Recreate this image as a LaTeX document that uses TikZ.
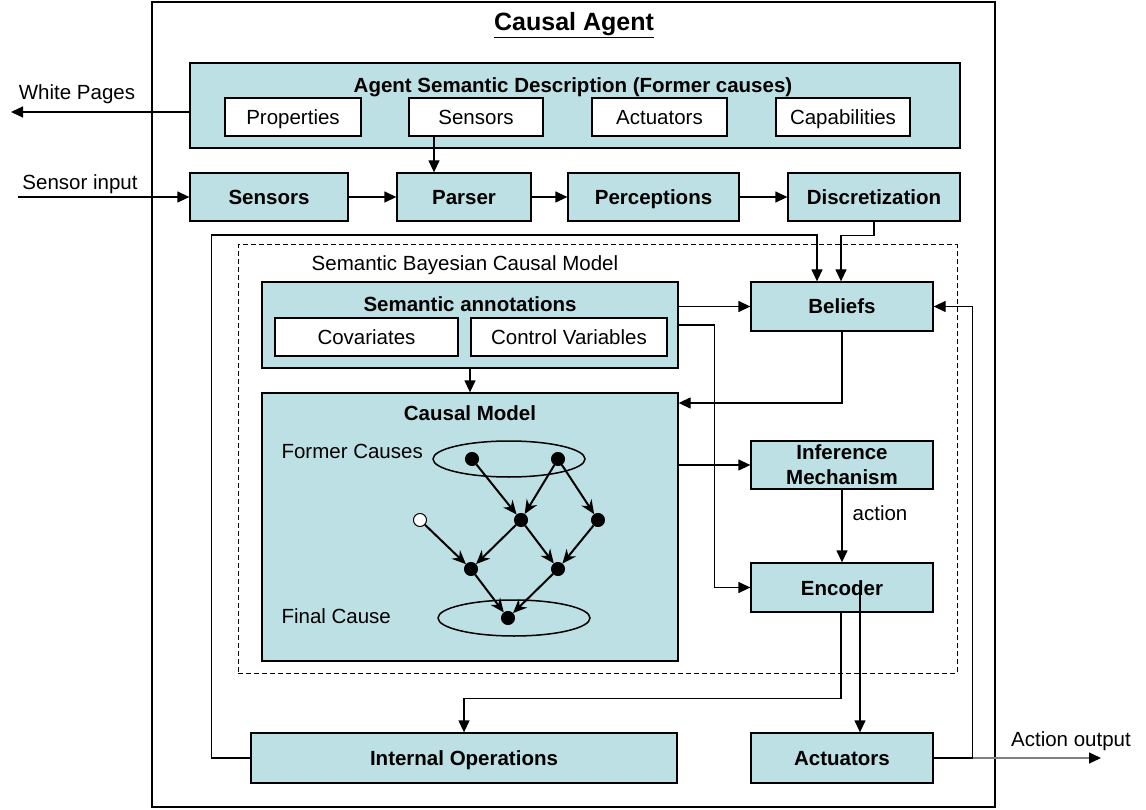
\documentclass[tikz,border=0pt]{standalone}
\usepackage{fontspec}
\setmainfont{Liberation Sans}
\usetikzlibrary{arrows.meta}
\definecolor{tealfill}{RGB}{188,224,227}
\begin{document}
\begin{tikzpicture}[x=1pt,y=-1pt,
  font=\fontsize{20.5}{25}\selectfont,
  rg/.style={font=\fontsize{20.5}{25}\selectfont, text height=15pt, text depth=0pt},
  bf/.style={font=\fontsize{20.5}{25}\selectfont\bfseries, text height=15pt, text depth=0pt},
  tbox/.style={draw, fill=tealfill, line width=1.3pt, inner sep=0pt, bf},
  wbox/.style={draw, fill=white, line width=1.3pt, inner sep=0pt, rg},
  conn/.style={line width=1.3pt, -{Triangle[length=12pt,width=11pt]}},
  gnode/.style={circle, draw, fill=black, line width=1pt, minimum size=13pt, inner sep=0pt},
  gedge/.style={line width=2pt, -{Stealth[length=14pt,width=12pt]}},
]
\useasboundingbox (0,0) rectangle (1146,810);

% outer agent box and title
\node[draw, line width=1.3pt, minimum width=843pt, minimum height=805pt, inner sep=0pt] (agent) at (573.5,404.5) {};
\node[font=\fontsize{25}{30}\selectfont\bfseries] (title) at (574,25) {\underline{Causal Agent}};

% agent semantic description
\node[tbox, minimum width=770pt, minimum height=85pt] (asd) at (575,105.5) {};
\node[bf] (asdt) at (573,85) {Agent Semantic Description (Former causes)};
\node[wbox, minimum width=136pt, minimum height=38pt] (prop) at (293,117) {Properties};
\node[wbox, minimum width=134pt, minimum height=38pt] (wsens) at (476,117) {Sensors};
\node[wbox, minimum width=135pt, minimum height=38pt] (wact) at (659.5,117) {Actuators};
\node[wbox, minimum width=134pt, minimum height=38pt] (capa) at (843,117) {Capabilities};

% sensing row
\node[tbox, minimum width=158pt, minimum height=48pt] (sens) at (269,197) {Sensors};
\node[tbox, minimum width=134pt, minimum height=48pt] (parser) at (464,197) {Parser};
\node[tbox, minimum width=171pt, minimum height=48pt] (perc) at (653.5,197) {Perceptions};
\node[tbox, minimum width=172pt, minimum height=48pt] (disc) at (874,197) {Discretization};

% semantic bayesian causal model
\node[draw, line width=1pt, dash pattern=on 5pt off 3pt, minimum width=719pt, minimum height=428pt, inner sep=0pt] (sbcm) at (597.5,459) {};
\node[rg] (sbcml) at (465,263) {Semantic Bayesian Causal Model};

\node[tbox, minimum width=416pt, minimum height=86pt] (sa) at (470,325) {};
\node[bf] (sat) at (470,304) {Semantic annotations};
\node[wbox, minimum width=183pt, minimum height=38pt] (cov) at (366.5,337) {Covariates};
\node[wbox, minimum width=196pt, minimum height=38pt] (ctrl) at (569,337) {Control Variables};

\node[tbox, minimum width=416pt, minimum height=268pt] (cm) at (470,527) {};
\node[bf] (cmt) at (470,413) {Causal Model};

\node[tbox, minimum width=182pt, minimum height=49pt] (bel) at (842,306.5) {Beliefs};
\node[tbox, minimum width=182pt, minimum height=48pt, align=center, text height=, text depth=] (inf) at (842,465) {Inference\\Mechanism};
\node[tbox, minimum width=182pt, minimum height=49pt] (enc) at (842,587.5) {Encoder};

% bottom row
\node[tbox, minimum width=426pt, minimum height=50pt] (intops) at (464,758) {Internal Operations};
\node[tbox, minimum width=182pt, minimum height=50pt] (act) at (842,758) {Actuators};

% outside labels
\node[rg] (wpl) at (77,92) {White Pages};
\node[rg] (sil) at (80,182) {Sensor input};
\node[rg] (actl) at (880,513) {action};
\node[rg] (aol) at (1071,739) {Action output};

% causal graph
\draw[line width=1.5pt] (509,459) ellipse [x radius=76pt, y radius=18pt];
\draw[line width=1.5pt] (514,618) ellipse [x radius=76pt, y radius=18pt];
\node[rg, anchor=west] (fcl) at (278,451) {Former Causes};
\node[rg, anchor=west] (finl) at (278,616) {Final Cause};
\node[gnode] (a) at (472,459) {};
\node[gnode] (b) at (558,459) {};
\node[gnode] (c) at (521,520) {};
\node[gnode] (d) at (598,520) {};
\node[gnode, fill=white] (o) at (420,520) {};
\node[gnode] (e) at (471,569) {};
\node[gnode] (f) at (558,569) {};
\node[gnode] (g) at (508,618) {};
\draw[gedge] (a) -- (c);
\draw[gedge] (b) -- (c);
\draw[gedge] (b) -- (d);
\draw[gedge] (o) -- (e);
\draw[gedge] (c) -- (e);
\draw[gedge] (c) -- (f);
\draw[gedge] (d) -- (f);
\draw[gedge] (e) -- (g);
\draw[gedge] (f) -- (g);

% connectors
\coordinate (wp) at (11,112);
\draw[conn] (asd.west |- wp) -- (wp);
\coordinate (si) at (18,197);
\draw[conn] (si) -- (sens.west);
\draw[conn] (sens) -- (parser);
\draw[conn] (parser) -- (perc);
\draw[conn] (perc) -- (disc);
\draw[conn] ([xshift=-42pt]wsens.south) -- ([xshift=-30pt]parser.north);
\draw[conn] (disc.south) -- ++(0,14) -| ([xshift=-1pt]bel.north);
\coordinate (lp) at (211.5,235);
\draw[conn] (intops.west) -| (lp) -| ([xshift=-25pt]bel.north);
\draw[conn] (sa.east |- bel.west) -- (bel.west);
\draw[conn] (sa.east) -- ++(36,0) |- (enc.west);
\draw[conn] (bel.south) |- ([yshift=124pt]cm.east);
\draw[conn] (sa.south) -- (cm.north);
\draw[conn] (cm.east |- inf.west) -- (inf.west);
\draw[conn] (inf.south) -- (enc.north);
\draw[conn] ([xshift=-1pt]enc.south) -- ++(0,86) -| (intops.north);
\draw[conn] ([xshift=18pt]enc.center) -- ([xshift=18pt]act.north);
\coordinate (ao) at (1101,758);
\draw[gray, line width=1.3pt, -{Triangle[length=12pt,width=11pt,black]}] (act.east) -- (ao);
\draw[conn] (act.east) -- ++(39,0) |- (bel.east);
\end{tikzpicture}
\end{document}
